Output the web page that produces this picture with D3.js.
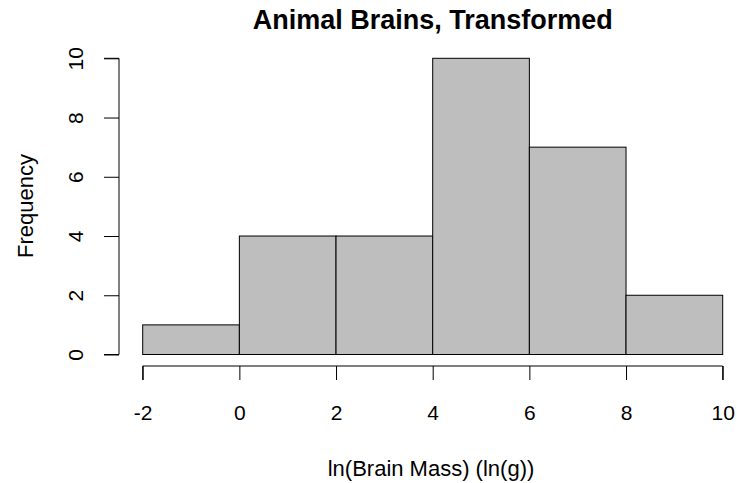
<!DOCTYPE html>
<html><head><meta charset="utf-8">
<script src="https://cdn.jsdelivr.net/npm/d3@7"></script>
<style>body{margin:0;background:#fff;} text{font-family:"Liberation Sans",Arial,sans-serif;}</style>
</head><body>
<svg id="c" width="737" height="483"></svg>
<script>
const binEdges = [-2, 0, 2, 4, 6, 8, 10];
const counts = [1, 4, 4, 10, 7, 2];
const xTicks = [-2, 0, 2, 4, 6, 8, 10];
const yTicks = [0, 2, 4, 6, 8, 10];

const FONT = "Liberation Sans, Arial, sans-serif";
const svg = d3.select("#c");
const x = d3.scaleLinear().domain([-2, 10]).range([142.7, 722.7]);
const y = d3.scaleLinear().domain([0, 10]).range([354.5, 58.3]);

const bars = counts.map((c, i) => ({x0: binEdges[i], x1: binEdges[i+1], c}));
svg.selectAll("rect.bar").data(bars).enter().append("rect")
  .attr("x", d => x(d.x0)).attr("y", d => y(d.c))
  .attr("width", d => x(d.x1) - x(d.x0)).attr("height", d => y(0) - y(d.c))
  .attr("fill", "#bebebe").attr("stroke", "#000").attr("stroke-width", 1);

const xAxis = svg.append("g").attr("transform", "translate(0,366)")
  .call(d3.axisBottom(x).tickValues(xTicks).tickSize(14).tickFormat(d3.format("d")));
xAxis.select(".domain").attr("d", `M${x(-2)},14V0H${x(10)}V14`).attr("stroke", "#000");
xAxis.selectAll("line").attr("stroke", "#000");
xAxis.selectAll("text").remove();
xAxis.selectAll("g.tick").append("text")
  .attr("y", 54).attr("text-anchor", "middle")
  .attr("font-size", 21).attr("fill", "#000").attr("font-family", FONT)
  .text(d => String(d));

const yAxis = svg.append("g").attr("transform", "translate(119,0)")
  .call(d3.axisLeft(y).tickValues(yTicks).tickSize(15).tickFormat(d3.format("d")));
yAxis.select(".domain").attr("d", `M-15,${y(0)}H0V${y(10)}H-15`).attr("stroke", "#000");
yAxis.selectAll("line").attr("stroke", "#000");
yAxis.selectAll("text").remove();
yAxis.selectAll("g.tick").append("text")
  .attr("transform", "translate(-36,0) rotate(-90)")
  .attr("text-anchor", "middle")
  .attr("font-size", 21).attr("fill", "#000").attr("font-family", FONT)
  .text(d => String(d));

svg.append("text").attr("x", 432.7).attr("y", 29).attr("text-anchor", "middle")
  .attr("font-size", 27).attr("font-weight", "bold").text("Animal Brains, Transformed");
svg.append("text").attr("x", 431).attr("y", 476).attr("text-anchor", "middle")
  .attr("font-size", 22).text("ln(Brain Mass) (ln(g))");
svg.append("text").attr("transform", "translate(33,206) rotate(-90)").attr("text-anchor", "middle")
  .attr("font-size", 22).text("Frequency");
</script>
</body></html>
